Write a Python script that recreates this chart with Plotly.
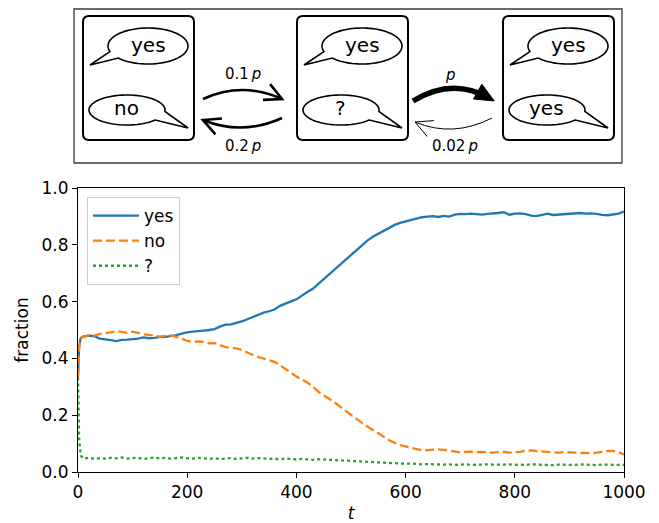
import numpy as np
import plotly.graph_objects as go

# ---------------- data ----------------
t = [0, 2, 5,
     10, 20, 30, 40, 50, 60, 70, 80, 90, 100,
     110, 120, 130, 140, 150, 160, 170, 180, 190, 200,
     210, 220, 230, 240, 250, 260, 270, 280, 290, 300,
     310, 320, 330, 340, 350, 360, 370, 380, 390, 400,
     410, 420, 430, 440, 450, 460, 470, 480, 490, 500,
     510, 520, 530, 540, 550, 560, 570, 580, 590, 600,
     610, 620, 630, 640, 650, 660, 670, 680, 690, 700,
     710, 720, 730, 740, 750, 760, 770, 780, 790, 800,
     810, 820, 830, 840, 850, 860, 870, 880, 890, 900,
     910, 920, 930, 940, 950, 960, 970, 980, 990, 1000]

frac_yes = [0.333, 0.44, 0.472,
            0.478, 0.480, 0.478, 0.470, 0.466, 0.464, 0.461, 0.465, 0.466, 0.467,
            0.470, 0.474, 0.471, 0.472, 0.476, 0.476, 0.478, 0.482, 0.487, 0.492,
            0.494, 0.497, 0.498, 0.500, 0.503, 0.512, 0.519, 0.520, 0.524, 0.530,
            0.538, 0.546, 0.555, 0.561, 0.566, 0.572, 0.585, 0.594, 0.601, 0.608,
            0.622, 0.634, 0.645, 0.662, 0.680, 0.697, 0.712, 0.730, 0.748, 0.765,
            0.783, 0.800, 0.815, 0.828, 0.838, 0.850, 0.860, 0.870, 0.877, 0.882,
            0.886, 0.890, 0.897, 0.899, 0.901, 0.898, 0.902, 0.899, 0.906, 0.909,
            0.908, 0.910, 0.907, 0.906, 0.909, 0.910, 0.912, 0.915, 0.906, 0.910,
            0.911, 0.908, 0.903, 0.901, 0.906, 0.910, 0.905, 0.906, 0.909, 0.910,
            0.909, 0.912, 0.910, 0.911, 0.909, 0.905, 0.904, 0.908, 0.910, 0.917]

frac_no = [0.333, 0.44, 0.470,
           0.475, 0.482, 0.480, 0.486, 0.488, 0.492, 0.496, 0.493, 0.490, 0.494,
           0.489, 0.485, 0.483, 0.480, 0.477, 0.479, 0.481, 0.476, 0.468, 0.462,
           0.459, 0.460, 0.458, 0.453, 0.454, 0.447, 0.440, 0.437, 0.435, 0.430,
           0.420, 0.412, 0.405, 0.400, 0.395, 0.388, 0.376, 0.364, 0.350, 0.336,
           0.326, 0.315, 0.300, 0.283, 0.270, 0.258, 0.245, 0.230, 0.215, 0.200,
           0.187, 0.173, 0.160, 0.148, 0.134, 0.122, 0.112, 0.103, 0.095, 0.090,
           0.085, 0.080, 0.076, 0.077, 0.079, 0.080, 0.078, 0.075, 0.070, 0.069,
           0.071, 0.072, 0.070, 0.071, 0.069, 0.068, 0.070, 0.071, 0.068, 0.069,
           0.071, 0.075, 0.076, 0.074, 0.072, 0.071, 0.069, 0.068, 0.070, 0.069,
           0.068, 0.069, 0.067, 0.066, 0.068, 0.072, 0.074, 0.074, 0.070, 0.062]

frac_unsure = [0.333, 0.12, 0.058,
               0.047, 0.050, 0.046, 0.049, 0.047, 0.050, 0.048, 0.051, 0.047, 0.049,
               0.050, 0.046, 0.049, 0.051, 0.048, 0.050, 0.047, 0.049, 0.051, 0.048,
               0.047, 0.050, 0.048, 0.046, 0.049, 0.045, 0.047, 0.049, 0.046, 0.048,
               0.050, 0.047, 0.049, 0.048, 0.046, 0.047, 0.045, 0.048, 0.047, 0.044,
               0.046, 0.045, 0.043, 0.045, 0.044, 0.042, 0.043, 0.041, 0.040, 0.039,
               0.037, 0.036, 0.037, 0.034, 0.033, 0.033, 0.031, 0.030, 0.030, 0.029,
               0.030, 0.028, 0.027, 0.028, 0.027, 0.025, 0.026, 0.027, 0.025, 0.026,
               0.027, 0.025, 0.026, 0.025, 0.027, 0.026, 0.025, 0.026, 0.027, 0.025,
               0.026, 0.025, 0.027, 0.026, 0.025, 0.026, 0.024, 0.026, 0.025, 0.026,
               0.025, 0.027, 0.026, 0.025, 0.024, 0.026, 0.025, 0.024, 0.025, 0.025]

series_names = ["yes", "no", "?"]
x_ticks = [0, 200, 400, 600, 800, 1000]
y_ticks = [0.0, 0.2, 0.4, 0.6, 0.8, 1.0]

# diagram texts
box_upper = ["yes", "yes", "yes"]
box_lower = ["no", "?", "yes"]
rate_labels = ["0.1\u2009<i>p</i>", "0.2\u2009<i>p</i>", "<i>p</i>", "0.02\u2009<i>p</i>"]

assert len(t) == len(frac_yes) == len(frac_no) == len(frac_unsure)

# ---------------- layout geometry (window pixels) ----------------
W, H = 659, 523          # browser window
OFF = 8                  # default page body margin
ML, MR, MT, MB = 78, 35, 188, 51   # plot-area edges in window pixels
PW = W - ML - MR
PH = H - MT - MB
FONT = "DejaVu Sans"


def px(x):
    return (x - ML) / PW


def py(y):
    return (H - MB - y) / PH


def path_from(points, close=False):
    s = ""
    for i, p in enumerate(points):
        if p[0] == "Q":
            _, cx, cy, x, y = p
            s += f" Q{px(cx):.5f},{py(cy):.5f} {px(x):.5f},{py(y):.5f}"
        else:
            cmd = "M" if i == 0 else "L"
            s += f" {cmd}{px(p[0]):.5f},{py(p[1]):.5f}"
    if close:
        s += " Z"
    return s.strip()


shapes = []
annotations = []

# outer frame
shapes.append(dict(type="rect", xref="paper", yref="paper",
                   x0=px(74), x1=px(622), y0=py(9), y1=py(163),
                   line=dict(color="#3a3a3a", width=1.3), fillcolor="white", layer="below"))


def rounded_rect(L, T, R, B, r=6):
    pts = [(L + r, T), (R - r, T), ("Q", R, T, R, T + r), (R, B - r), ("Q", R, B, R - r, B),
           (L + r, B), ("Q", L, B, L, B - r), (L, T + r), ("Q", L, T, L + r, T)]
    return path_from(pts, close=True)


def bubble(cx, cy, rx, ry, a_start, a_end, tip):
    ang = np.radians(np.linspace(a_start, a_end, 80))
    pts = [(cx + rx * np.cos(a), cy + ry * np.sin(a)) for a in ang]
    pts.append(tip)
    return path_from(pts, close=True)


def text(x, y, s, size):
    annotations.append(dict(x=px(x), y=py(y), xref="paper", yref="paper",
                            xanchor="center", yanchor="middle",
                            text=s, showarrow=False,
                            font=dict(family=FONT, size=size, color="black")))


box_left = [83, 297, 503]
for i, L in enumerate(box_left):
    shapes.append(dict(type="path", xref="paper", yref="paper",
                       path=rounded_rect(L, 16, L + 111, 140),
                       line=dict(color="black", width=2), fillcolor="white"))
    # upper bubble (tail to lower-left)
    shapes.append(dict(type="path", xref="paper", yref="paper",
                       path=bubble(L + 65, 46, 40, 18, 162, 498, (L + 7, 65)),
                       line=dict(color="black", width=1.6), fillcolor="white"))
    # lower bubble (tail to lower-right)
    shapes.append(dict(type="path", xref="paper", yref="paper",
                       path=bubble(L + 44, 110, 38, 15, 42, 365, (L + 105, 128)),
                       line=dict(color="black", width=1.6), fillcolor="white"))
    text(L + 65, 45, box_upper[i], 20)
    text(L + 43, 108, box_lower[i], 20)


def arc(start, ctrl, end, width, head="open", hl=19, ha=27):
    shapes.append(dict(type="path", xref="paper", yref="paper",
                       path=path_from([start, ("Q", ctrl[0], ctrl[1], end[0], end[1])]),
                       line=dict(color="black", width=width)))
    d = np.array(end, float) - np.array(ctrl, float)
    d /= np.linalg.norm(d)
    if head == "open":
        back = -d
        pts = []
        for s in (+1, -1):
            a = np.radians(ha) * s
            rot = np.array([back[0] * np.cos(a) - back[1] * np.sin(a),
                            back[0] * np.sin(a) + back[1] * np.cos(a)])
            pts.append(tuple(np.array(end) + hl * rot))
        shapes.append(dict(type="path", xref="paper", yref="paper",
                           path=path_from([pts[0], end, pts[1]]),
                           line=dict(color="black", width=width)))
    else:
        tip = np.array(end, float) + d * 6
        base = tip - d * 19
        perp = np.array([-d[1], d[0]])
        c1 = base + perp * 8.5
        c2 = base - perp * 8.5
        shapes.append(dict(type="path", xref="paper", yref="paper",
                           path=path_from([tuple(tip), tuple(c1), tuple(c2)], close=True),
                           line=dict(color="black", width=1), fillcolor="black"))


arc((203, 99), (242, 81), (282, 99), 2.6)
arc((282, 118), (242, 136), (203, 120), 2.6)
arc((413, 101), (452, 77), (489, 98), 5.5, head="filled")
arc((492, 118), (453, 138), (415, 122), 1.0)

label_pos = [(243, 74), (243, 146), (450, 75), (455, 146)]
for lab, (lx, ly) in zip(rate_labels, label_pos):
    text(lx, ly, lab, 15)

# ---------------- figure ----------------
fig = go.Figure()
fig.add_trace(go.Scatter(x=t, y=frac_yes, mode="lines", name=series_names[0],
                         line=dict(color="#1f77b4", width=2.3)))
fig.add_trace(go.Scatter(x=t, y=frac_no, mode="lines", name=series_names[1],
                         line=dict(color="#ff7f0e", width=2.3, dash="9px,4px")))
fig.add_trace(go.Scatter(x=t, y=frac_unsure, mode="lines", name=series_names[2],
                         line=dict(color="#2ca02c", width=2.3, dash="3px,3px")))

axis_common = dict(showline=True, linecolor="black", linewidth=1, mirror=True,
                   ticks="outside", ticklen=5, tickwidth=1, tickcolor="black",
                   showgrid=False, zeroline=False, automargin=False,
                   tickfont=dict(family=FONT, size=17, color="black"))

fig.update_layout(
    template="none",
    width=W - OFF, height=H - OFF,
    margin=dict(l=ML - OFF, r=MR, t=MT - OFF, b=MB, pad=0),
    paper_bgcolor="white", plot_bgcolor="white",
    font=dict(family=FONT, size=17, color="black"),
    xaxis=dict(range=[0, 1000], tickvals=x_ticks,
               title=dict(text="<i>t</i>", standoff=7,
                          font=dict(family=FONT, size=17)),
               **axis_common),
    yaxis=dict(range=[0, 1], tickvals=y_ticks, tickformat=".1f",
               title=dict(text="fraction", standoff=8,
                          font=dict(family=FONT, size=17)),
               **axis_common),
    legend=dict(x=px(87), y=py(197), xanchor="left", yanchor="top",
                bgcolor="white", bordercolor="#cccccc", borderwidth=1,
                itemwidth=46,
                font=dict(family=FONT, size=17, color="black")),
    shapes=shapes,
    annotations=annotations,
    showlegend=True,
)

fig.write_html("out.html")
